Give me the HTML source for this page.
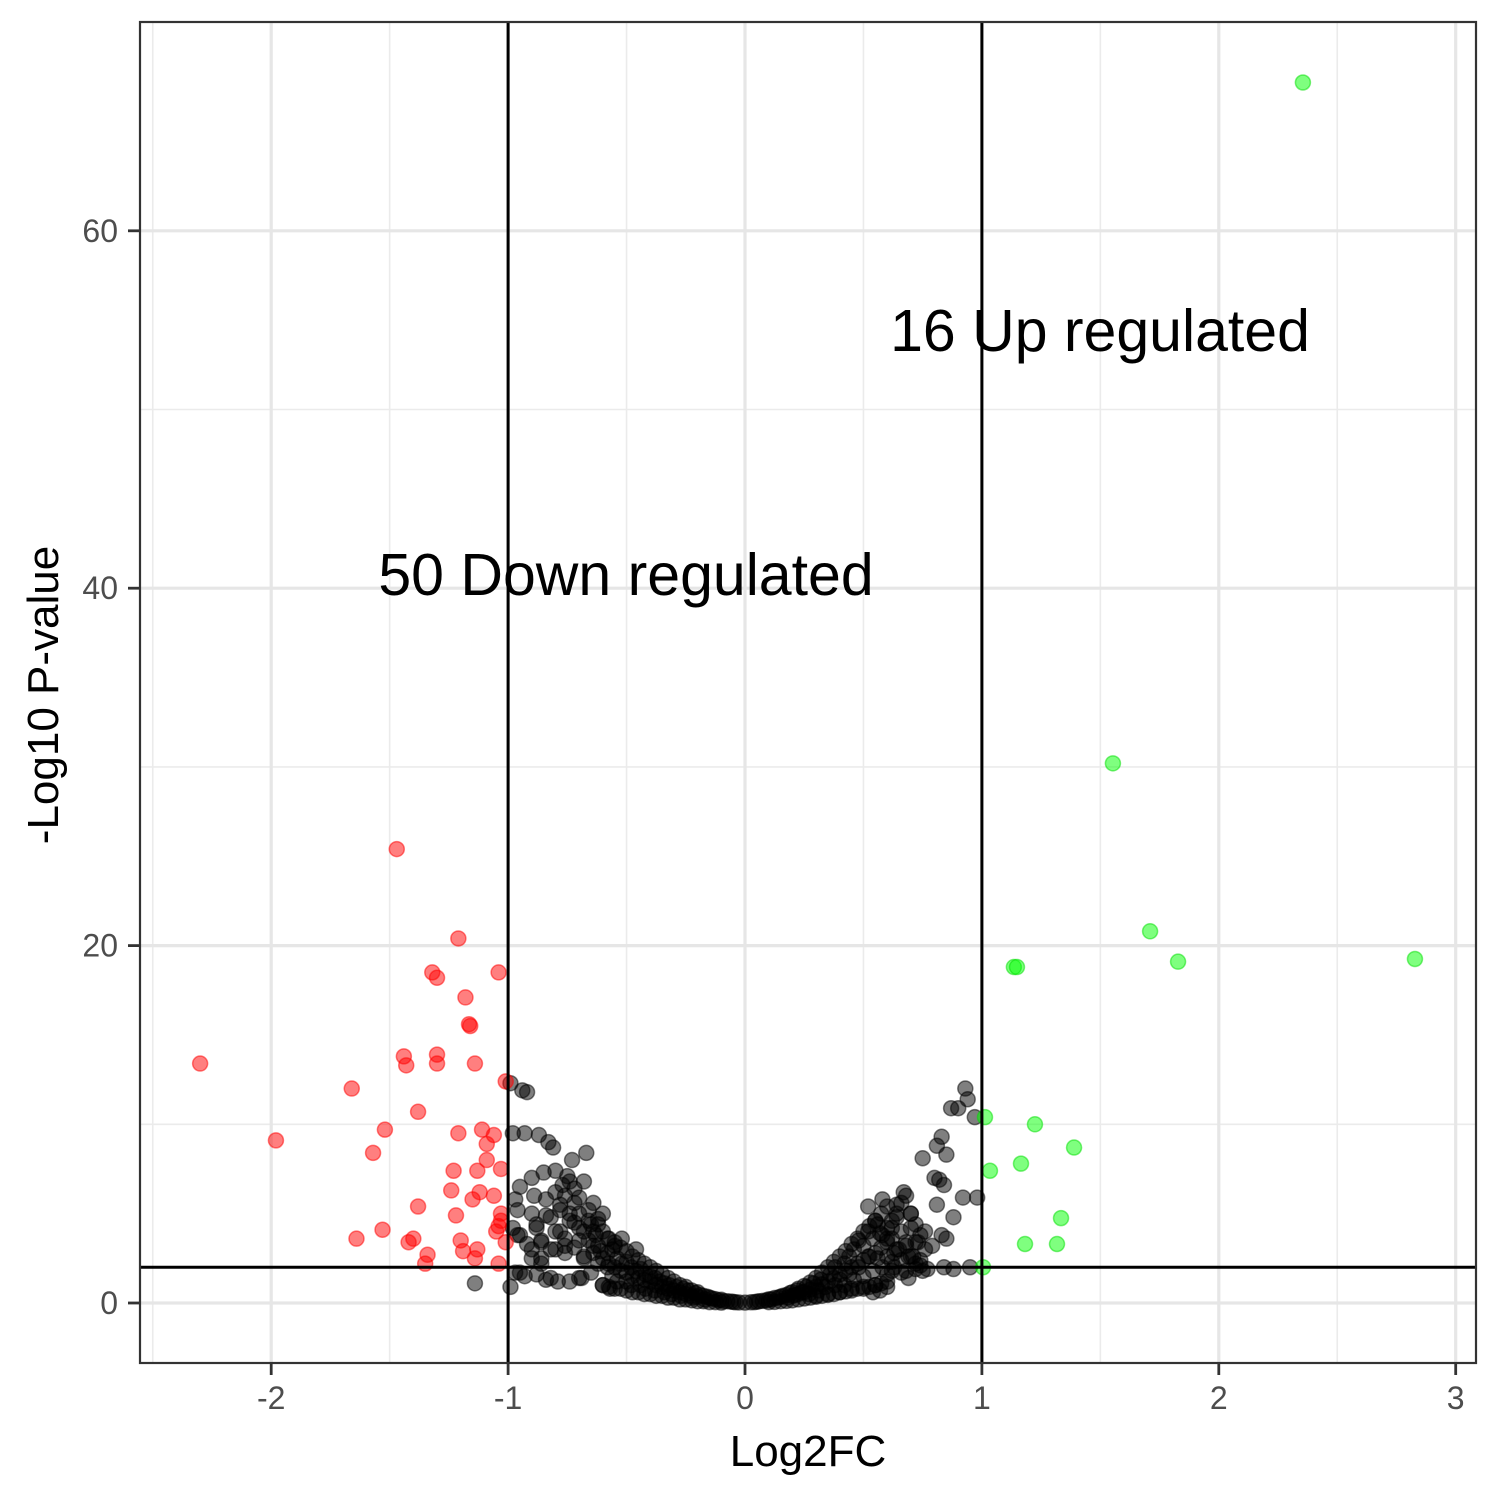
<!DOCTYPE html>
<html><head><meta charset="utf-8">
<style>
html,body{margin:0;padding:0;background:#fff;}
svg{display:block;font-family:"Liberation Sans",Arial,sans-serif;}
</style></head>
<body>
<svg id="chart" width="1500" height="1500" viewBox="0 0 1500 1500" xmlns="http://www.w3.org/2000/svg">
<rect width="1500" height="1500" fill="#fff"/>
<g id="grid"></g>
<g id="points"></g>
<g id="refs"></g>
<g id="axes"></g>
<text x="1100" y="351" font-size="59" text-anchor="middle" fill="#000">16 Up regulated</text>
<text x="626" y="595" font-size="59" text-anchor="middle" fill="#000">50 Down regulated</text>
<text x="808" y="1466" font-size="44" text-anchor="middle" fill="#000">Log2FC</text>
<text transform="translate(58,695) rotate(-90)" font-size="44" text-anchor="middle" fill="#000">-Log10 P-value</text>
</svg>
<script>
const xTicks=[-2,-1,0,1,2,3];
const yTicks=[0,20,40,60];
const xMinor=[-2.5,-1.5,-0.5,0.5,1.5,2.5];
const yMinor=[10,30,50];
const vLines=[-1,1];
const hLines=[2];
const greenX=[2.355,1.553,1.71,1.828,2.828,1.135,1.148,1.013,1.224,1.389,1.034,1.165,1.334,1.182,1.317,1.005];
const greenY=[68.3,30.2,20.8,19.1,19.25,18.8,18.8,10.4,10.0,8.7,7.4,7.8,4.75,3.3,3.3,2.0];
const redX=[-2.30,-1.98,-1.66,-1.47,-1.44,-1.43,-1.38,-1.52,-1.57,-1.38,-1.53,-1.64,-1.42,-1.40,-1.34,-1.35,-1.21,-1.32,-1.30,-1.18,-1.165,-1.16,-1.30,-1.30,-1.14,-1.04,-1.01,-1.21,-1.11,-1.06,-1.09,-1.09,-1.23,-1.13,-1.03,-1.24,-1.12,-1.06,-1.15,-1.22,-1.03,-1.03,-1.04,-1.05,-1.20,-1.01,-1.19,-1.13,-1.14,-1.04];
const redY=[13.4,9.1,12.0,25.4,13.8,13.3,10.7,9.7,8.4,5.4,4.1,3.6,3.4,3.6,2.7,2.2,20.4,18.5,18.2,17.1,15.6,15.5,13.9,13.4,13.4,18.5,12.4,9.5,9.7,9.4,8.9,8.0,7.4,7.4,7.5,6.3,6.2,6.0,5.8,4.9,5.0,4.6,4.3,4.0,3.5,3.4,2.9,3.0,2.5,2.2];
const blackX=[-0.94,-0.92,-0.99,-0.98,-0.93,-0.87,-0.83,-0.81,-0.73,-0.67,-0.85,-0.9,-0.95,-0.97,-0.89,-0.8,-0.77,-0.75,-0.72,-0.7,-0.68,-0.66,-0.64,-0.62,-0.6,-0.78,-0.74,-0.7,-0.65,-0.63,-0.88,-0.84,-0.8,-0.76,-0.96,-0.92,-0.86,-0.82,-1.14,-0.99,-0.95,-0.84,-0.79,-0.74,-0.57,-0.69,-0.9,-0.86,-0.76,-0.72,-0.68,-0.64,-0.61,-0.58,-0.55,
-0.6,-0.6,-0.6,-0.575,-0.575,-0.575,-0.55,-0.55,-0.55,-0.525,-0.525,-0.525,-0.5,-0.5,-0.5,-0.475,-0.475,-0.475,-0.45,-0.45,-0.45,-0.425,-0.425,-0.425,-0.4,-0.4,-0.4,-0.375,-0.375,-0.375,-0.35,-0.35,-0.35,-0.325,-0.325,-0.325,-0.3,-0.3,-0.3,-0.275,-0.275,-0.275,-0.25,-0.25,-0.25,-0.225,-0.225,-0.225,-0.2,-0.2,-0.2,-0.175,-0.175,-0.15,-0.15,-0.125,-0.125,-0.1,-0.1,-0.075,-0.05,-0.025,0,
0.025,0.05,0.075,0.1,0.1,0.125,0.125,0.15,0.15,0.175,0.175,0.2,0.2,0.2,0.225,0.225,0.225,0.25,0.25,0.25,0.275,0.275,0.275,0.3,0.3,0.3,0.325,0.325,0.325,0.35,0.35,0.35,0.375,0.375,0.375,0.4,0.4,0.4,0.425,0.425,0.425,0.45,0.45,0.45,0.475,0.475,0.475,0.5,0.5,0.5,0.525,0.525,0.525,0.55,0.55,0.55,0.575,0.575,0.575,0.6,0.6,0.6,
0.62,0.64,0.66,0.68,0.7,0.72,0.74,0.62,0.65,0.68,0.71,0.74,0.6,0.63,0.66,0.69,0.72,0.58,0.52,0.55,0.57,0.6,0.63,
0.93,0.94,0.87,0.9,0.97,0.83,0.85,0.81,0.75,0.8,0.82,0.84,0.98,0.92,0.81,0.88,0.85,0.83,0.77,0.84,0.88,0.95,0.79,0.76,0.73,0.7,0.67,0.64,0.62,0.69,0.72,0.75,0.6,0.57,0.54,
-0.9,-0.88,-0.86,-0.84,-0.82,-0.8,-0.8,-0.78,-0.78,-0.76,-0.76,-0.74,-0.74,-0.72,-0.72,-0.7,-0.7,-0.68,-0.68,-0.66,-0.66,-0.64,-0.64,-0.62,-0.62,-0.62,-0.58,-0.58,-0.56,-0.56,-0.54,-0.54,-0.52,-0.52,-0.5,-0.5,-0.48,-0.48,-0.46,-0.46,-0.44,-0.44,-0.42,-0.42,-0.4,-0.38,-0.38,-0.36,-0.34,-0.34,-0.32,-0.31,-0.29,-0.27,-0.26,-0.24,-0.22,-0.21,-0.19,-0.17,-0.16,-0.14,-0.11,-0.09,-0.06,-0.04,
-0.97,-0.93,-0.88,-0.82,-0.6,-0.65,-0.7,-0.86,-0.9,-0.95,-0.98,-0.96,
0.04,0.06,0.09,0.11,0.14,0.16,0.18,0.19,0.21,0.22,0.24,0.26,0.27,0.29,0.31,0.32,0.34,0.36,0.38,0.38,0.4,0.42,0.42,0.44,0.44,0.46,0.46,0.48,0.48,0.5,0.5,0.52,0.52,0.54,0.54,0.56,0.56,0.58,0.58,0.6,0.6,0.62,0.62,0.64,0.64,0.66,0.66,0.68,0.68,0.7,0.7,0.72,0.74,0.76,0.55,0.5,0.45,0.4,0.35,0.3];
const blackY=[11.9,11.8,12.3,9.5,9.5,9.4,9.0,8.7,8.0,8.4,7.3,7.0,6.5,5.8,6.0,7.4,6.6,7.1,6.4,5.9,6.8,5.2,5.6,4.7,5.0,5.2,4.6,4.2,4.4,3.8,4.4,4.9,4.0,3.6,3.8,3.3,3.4,3.0,1.1,0.9,1.7,1.3,1.2,1.2,0.8,1.4,2.5,2.2,2.8,3.1,2.6,3.2,2.9,3.6,3.2,
1.0,2.5,4.0,0.9,2.2,3.6,0.8,2.0,3.4,0.8,1.8,3.1,0.7,1.7,2.9,0.6,1.5,2.6,0.6,1.4,2.4,0.5,1.3,2.2,0.5,1.2,2.0,0.4,1.0,1.8,0.4,0.9,1.6,0.3,0.8,1.4,0.3,0.7,1.2,0.2,0.6,1.0,0.2,0.5,0.9,0.15,0.4,0.7,0.1,0.35,0.6,0.1,0.4,0.05,0.3,0.05,0.22,0.02,0.18,0.1,0.06,0.03,0.02,
0.04,0.07,0.12,0.05,0.2,0.06,0.28,0.1,0.35,0.12,0.45,0.15,0.4,0.6,0.2,0.5,0.8,0.25,0.6,0.95,0.3,0.75,1.15,0.35,0.9,1.4,0.4,1.05,1.7,0.45,1.2,2.0,0.5,1.4,2.3,0.6,1.6,2.6,0.65,1.8,2.9,0.7,2.0,3.3,0.8,2.2,3.6,0.8,2.4,4.0,0.9,2.6,4.3,1.0,2.8,4.6,1.1,3.1,5.0,1.2,3.4,5.4,
4.2,4.8,5.6,6.0,5.0,4.4,3.8,2.3,3.0,3.4,2.6,2.1,1.6,2.0,1.7,1.4,1.9,5.8,5.4,4.6,3.9,3.6,2.8,
12.0,11.4,10.9,10.9,10.4,9.3,8.3,8.8,8.1,7.0,6.9,6.6,5.9,5.9,5.5,4.8,3.6,3.8,1.9,2.0,1.9,2.0,3.2,4.0,3.4,5.0,6.2,5.5,4.6,2.6,2.2,1.8,0.9,0.7,0.6,
5.0,4.2,3.5,5.8,4.8,6.2,3.0,5.5,4.0,6.0,3.2,5.0,6.8,4.5,5.6,3.5,5.0,4.0,2.5,3.5,4.6,2.8,4.0,3.2,2.2,4.4,2.0,2.8,1.5,3.0,2.5,1.2,2.2,3.6,1.2,2.3,2.0,1.0,1.8,3.0,1.0,1.9,1.6,0.8,1.5,0.7,1.4,1.2,0.6,1.1,1.0,0.5,0.9,0.4,0.8,0.7,0.3,0.55,0.45,0.2,0.35,0.25,0.15,0.1,0.08,0.04,
1.7,1.5,1.6,1.4,1.0,1.7,1.4,2.5,3.0,3.8,4.2,5.2,
0.05,0.1,0.15,0.2,0.3,0.4,0.3,0.55,0.45,0.7,0.6,0.9,0.5,1.1,0.7,1.3,0.9,1.6,1.0,2.0,1.3,2.2,1.0,1.6,2.6,1.3,3.0,2.0,3.5,1.5,3.2,2.6,4.0,1.8,3.6,2.5,4.4,2.0,3.8,2.6,4.2,3.6,1.8,3.0,5.0,2.4,4.0,3.2,1.8,4.2,2.6,3.4,2.4,3.0,1.0,0.9,0.8,0.6,0.5,0.4];
const X0=745,XS=236.9,Y0=1303,YS=17.87;
const L=140,R=1476,T=22,B=1363;
function sx(v){return X0+v*XS;}
function sy(v){return Y0-v*YS;}
const NS='http://www.w3.org/2000/svg';
function mk(tag,attrs,parent){const e=document.createElementNS(NS,tag);for(const k in attrs)e.setAttribute(k,attrs[k]);parent.appendChild(e);return e;}
const grid=document.getElementById('grid'),pts=document.getElementById('points'),refs=document.getElementById('refs'),axes=document.getElementById('axes');
xMinor.forEach(v=>{const l=mk('line',{x1:sx(v),x2:sx(v),y1:T,y2:B,stroke:'#ebebeb','stroke-width':1.6},grid);

});
yMinor.forEach(v=>{const l=mk('line',{x1:L,x2:R,y1:sy(v),y2:sy(v),stroke:'#ebebeb','stroke-width':1.6},grid);

});
xTicks.forEach(v=>{const l=mk('line',{x1:sx(v),x2:sx(v),y1:T,y2:B,stroke:'#e6e6e6','stroke-width':3.2},grid);

});
yTicks.forEach(v=>{const l=mk('line',{x1:L,x2:R,y1:sy(v),y2:sy(v),stroke:'#e6e6e6','stroke-width':3.2},grid);

});
function drawPts(xs,ys,fill,stroke,name){xs.forEach((x,i)=>{const c=mk('circle',{cx:sx(x),cy:sy(ys[i]),r:7.5,fill:fill,'fill-opacity':0.5,stroke:stroke,'stroke-opacity':0.5,'stroke-width':1.5},pts);

});}
drawPts(blackX,blackY,'#000','#000','gene-point-ns');
drawPts(redX,redY,'#ff0000','#ff0000','gene-point-down');
drawPts(greenX,greenY,'#00ff00','#00dd00','gene-point-up');
vLines.forEach(v=>{const l=mk('line',{x1:sx(v),x2:sx(v),y1:T,y2:B,stroke:'#000','stroke-width':3},refs);

});
hLines.forEach(v=>{const l=mk('line',{x1:L,x2:R,y1:sy(v),y2:sy(v),stroke:'#000','stroke-width':3},refs);

});
const border=mk('rect',{x:L,y:T,width:R-L,height:B-T,fill:'none',stroke:'#333','stroke-width':2.2},axes);


xTicks.forEach(v=>{const t=mk('line',{x1:sx(v),x2:sx(v),y1:B,y2:B+12,stroke:'#333','stroke-width':2.8},axes);


const lb=mk('text',{x:sx(v),y:B+46,'font-size':32,'text-anchor':'middle',fill:'#4d4d4d'},axes);lb.textContent=String(v);

});
yTicks.forEach(v=>{const t=mk('line',{x1:L-12,x2:L,y1:sy(v),y2:sy(v),stroke:'#333','stroke-width':2.8},axes);


const lb=mk('text',{x:L-22,y:sy(v)+11,'font-size':32,'text-anchor':'end',fill:'#4d4d4d'},axes);lb.textContent=String(v);

});
</script>
</body></html>
